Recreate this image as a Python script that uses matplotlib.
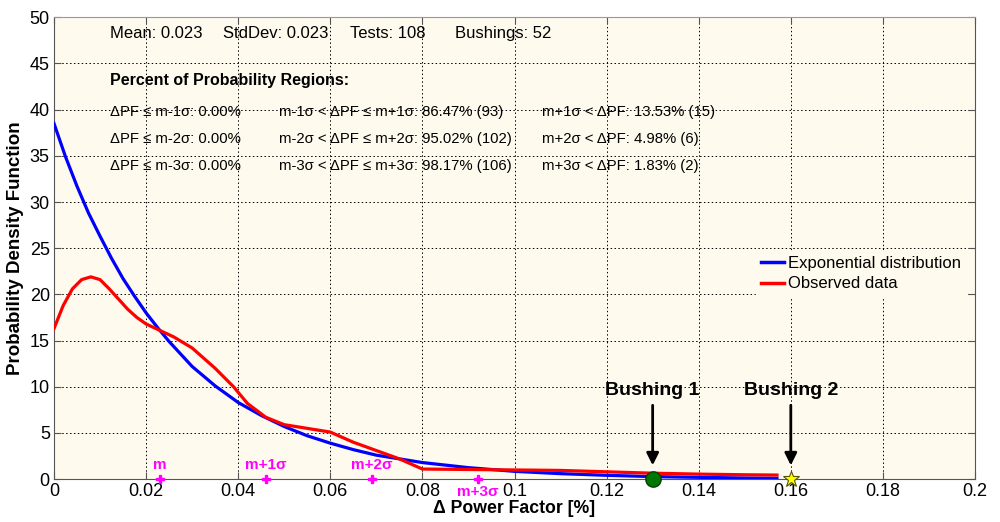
import matplotlib
matplotlib.use("Agg")
from matplotlib import pyplot as plt

plt.rcParams['font.family'] = ['Liberation Sans', 'DejaVu Sans']

# exponential fit
x_exp = [0, 0.0025, 0.005, 0.0075, 0.01, 0.0125, 0.015, 0.0175, 0.02, 0.0225, 0.025,
         0.03, 0.035, 0.04, 0.045, 0.05, 0.055, 0.06, 0.065, 0.07, 0.075, 0.08,
         0.09, 0.1, 0.11, 0.12, 0.13, 0.14, 0.15, 0.157]
y_exp = [38.5, 34.9, 31.7, 28.8, 26.3, 23.9, 21.7, 19.8, 18.0, 16.4, 14.9,
         12.2, 10.1, 8.3, 6.9, 5.7, 4.7, 3.9, 3.2, 2.6, 2.2, 1.8,
         1.25, 0.85, 0.6, 0.42, 0.28, 0.2, 0.13, 0.1]

# observed data curve
x_obs = [0, 0.002, 0.004, 0.006, 0.008, 0.01, 0.012, 0.014, 0.016, 0.018, 0.02,
         0.023, 0.026, 0.03, 0.035, 0.039, 0.042, 0.046, 0.05, 0.055, 0.06,
         0.065, 0.07, 0.075, 0.08, 0.09, 0.1, 0.11, 0.12, 0.13, 0.14, 0.15, 0.157]
y_obs = [16.3, 18.8, 20.6, 21.6, 21.9, 21.6, 20.6, 19.5, 18.4, 17.5, 16.8,
         16.1, 15.4, 14.2, 12.0, 10.0, 8.2, 6.7, 5.9, 5.5, 5.1,
         4.0, 3.1, 2.2, 1.1, 1.05, 1.0, 0.95, 0.8, 0.65, 0.55, 0.48, 0.45]

sigma_x = [0.023, 0.046, 0.069, 0.092]
sigma_lbl = ['m', 'm+1\u03c3', 'm+2\u03c3', 'm+3\u03c3']

bushing_x = [0.13, 0.16]
bushing_lbl = ['Bushing 1', 'Bushing 2']

stats = ["Mean: 0.023", "StdDev: 0.023", "Tests: 108", "Bushings: 52"]
stats_x = [0.0122, 0.0367, 0.0643, 0.0871]
rows_c1 = ["\u0394PF \u2264 m-1\u03c3: 0.00%", "\u0394PF \u2264 m-2\u03c3: 0.00%", "\u0394PF \u2264 m-3\u03c3: 0.00%"]
rows_c2 = ["m-1\u03c3 < \u0394PF \u2264 m+1\u03c3: 86.47% (93)",
           "m-2\u03c3 < \u0394PF \u2264 m+2\u03c3: 95.02% (102)",
           "m-3\u03c3 < \u0394PF \u2264 m+3\u03c3: 98.17% (106)"]
rows_c3 = ["m+1\u03c3 < \u0394PF: 13.53% (15)", "m+2\u03c3 < \u0394PF: 4.98% (6)", "m+3\u03c3 < \u0394PF: 1.83% (2)"]

fig = plt.figure(figsize=(10, 5.22), dpi=100)
ax = fig.add_axes([0.054, 0.082, 0.921, 0.885])
bg = '#fffaee'
ax.set_facecolor(bg)

ax.plot(x_exp, y_exp, color='#0000ff', lw=2.3, label='Exponential distribution', zorder=3)
ax.plot(x_obs, y_obs, color='#ff0000', lw=2.3, label='Observed data', zorder=3)

ax.set_xlim(0, 0.2)
ax.set_ylim(0, 50)
ax.set_xticks([0, 0.02, 0.04, 0.06, 0.08, 0.1, 0.12, 0.14, 0.16, 0.18, 0.2])
ax.set_xticklabels(['0', '0.02', '0.04', '0.06', '0.08', '0.1', '0.12', '0.14', '0.16', '0.18', '0.2'])
ax.set_yticks(range(0, 51, 5))
ax.grid(True, color='black', linestyle=(0, (1.5, 2.5)), lw=0.7)
ax.tick_params(direction='in', top=True, right=True, labelsize=13, length=5, color='#555555', pad=3)
for s in ax.spines.values():
    s.set_color('#555555')
ax.spines['top'].set_color('#999999')

ax.set_xlabel('\u0394 Power Factor [%]', fontsize=12.7, fontweight='bold', labelpad=0)
ax.set_ylabel('Probability Density Function', fontsize=13.5, fontweight='bold', labelpad=4)

# sigma markers
ax.plot(sigma_x, [0] * len(sigma_x), 'P', color='#ff00ff', ms=6, clip_on=False, zorder=5)
for i, (sx, sl) in enumerate(zip(sigma_x, sigma_lbl)):
    if i == 3:
        ax.text(sx, -0.6, sl, color='#ff00ff', fontsize=11, fontweight='bold', ha='center', va='top')
    else:
        ax.text(sx, 0.8, sl, color='#ff00ff', fontsize=11, fontweight='bold', ha='center', va='bottom')

# bushings
ax.plot(bushing_x[0], 0, 'o', color='#007700', mec='#004400', ms=11, clip_on=False, zorder=6)
ax.plot(bushing_x[1], 0, '*', color='#ffff00', mec='#555500', mew=0.8, ms=12, clip_on=False, zorder=6)
for bx, bl in zip(bushing_x, bushing_lbl):
    ax.annotate('', xy=(bx, 1.2), xytext=(bx, 8.3),
                arrowprops=dict(arrowstyle='-|>', color='black', lw=2, mutation_scale=18))
    ax.text(bx, 9.6, bl, fontsize=14, fontweight='bold', ha='center', va='center')

# stats texts
for sx, st in zip(stats_x, stats):
    ax.text(sx, 48.2, st, fontsize=12, va='center')
ax.text(0.0122, 43.1, 'Percent of Probability Regions:', fontsize=11.5, fontweight='bold', va='center')
row_y = [39.7, 36.8, 33.9]
for i in range(3):
    ax.text(0.0122, row_y[i], rows_c1[i], fontsize=10.7, va='center')
    ax.text(0.0489, row_y[i], rows_c2[i], fontsize=10.7, va='center')
    ax.text(0.106, row_y[i], rows_c3[i], fontsize=10.7, va='center')

leg = ax.legend(loc='upper right', bbox_to_anchor=(0.99, 0.495), fontsize=12, frameon=True,
                handlelength=1.4, handletextpad=0.2, borderaxespad=0.0, borderpad=0.3,
                labelspacing=0.35, fancybox=False)
leg.get_frame().set_facecolor(bg)
leg.get_frame().set_edgecolor(bg)
leg.get_frame().set_alpha(1)
for ln in leg.get_lines():
    ln.set_linewidth(2.5)

fig.savefig('out.png', dpi=100)
